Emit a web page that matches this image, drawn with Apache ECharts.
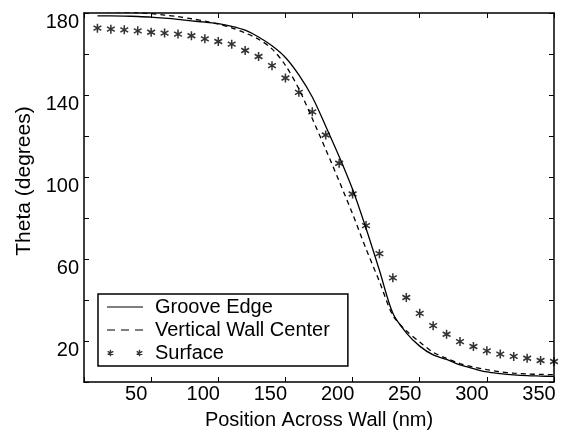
<!DOCTYPE html>
<html>
<head>
<meta charset="utf-8">
<script src="https://cdn.jsdelivr.net/npm/echarts@6/dist/echarts.min.js"></script>
<style>
html,body{margin:0;padding:0;background:#fff;}
#chart{width:561px;height:435px;}
</style>
</head>
<body>
<div id="chart"></div>
<script>
// ---- data ----
const xPositions = [10,20,30,40,50,60,70,80,90,100,110,120,130,140,150,160,170,180,190,200,210,220,230,240,250,260,270,280,290,300,310,320,330,340,350];
const grooveEdge = [178.6,178.6,178.5,178.3,178.0,177.5,176.9,176.2,175.5,174.8,173.5,171.6,168.3,164.0,158.3,149.8,139.0,124.8,110.0,94.0,75.0,54.5,33.5,24.0,17.5,13.2,11.0,8.3,6.5,4.9,4.1,3.5,3.1,2.9,2.7];
const verticalWallCenter = [180.8,180.7,180.5,180.2,179.7,179.0,178.2,177.2,176.0,174.6,172.8,170.3,167.2,162.5,154.5,143.0,128.5,113.5,98.0,82.0,65.0,49.0,32.5,25.0,19.5,14.5,11.5,9.0,7.3,6.0,5.0,4.3,3.9,3.7,3.6];
const surface = [172.6,172.1,171.8,171.3,170.6,170.2,169.7,168.9,167.4,166.1,164.8,161.7,158.8,154.3,148.3,141.3,131.8,120.5,106.7,91.7,76.3,62.6,50.8,41.2,33.5,27.5,23.3,19.7,17.3,15.2,13.6,12.5,11.6,10.5,10.0];
const seriesNames = ['Groove Edge','Vertical Wall Center','Surface'];
const xTickLabels = [50,100,150,200,250,300,350];
const yTickLabels = [20,60,100,140,180];
const xTitle = 'Position Across Wall (nm)';
const yTitle = 'Theta (degrees)';

const pairs = ys => xPositions.map((x,i)=>[x, ys[i]]);
const FONT = '"Liberation Sans", Arial, Helvetica, sans-serif';

// six-armed asterisk: three bars through (cx,cy), all wound the same way
function starPath(cx, cy, r, t) {
  let p = '';
  [90, 30, -30].forEach(deg => {
    const a = deg * Math.PI / 180, dx = Math.cos(a) * r, dy = Math.sin(a) * r;
    const nx = -Math.sin(a) * t / 2, ny = Math.cos(a) * t / 2;
    const pts = [[cx - dx + nx, cy - dy + ny], [cx + dx + nx, cy + dy + ny], [cx + dx - nx, cy + dy - ny], [cx - dx - nx, cy - dy - ny]];
    // make winding consistent (positive signed area)
    let s = 0;
    for (let i = 0; i < 4; i++) { const q = pts[i], w = pts[(i + 1) % 4]; s += q[0] * w[1] - w[0] * q[1]; }
    if (s < 0) pts.reverse();
    p += 'M' + pts.map(q => q[0].toFixed(2) + ' ' + q[1].toFixed(2)).join(' L') + ' Z ';
  });
  return p;
}
const asterisk = 'path://M0 0 L0.01 0 L0 0.01 Z M10 10 L9.99 10 L10 9.99 Z ' + starPath(5, 5, 5, 1.7);
// legend icons drawn in a 36 x 8 box (corner specks fix the box)
const box = 'M0 0 L0.01 0 L0 0.01 Z M36 8 L35.99 8 L36 7.99 Z ';
const solidIcon = 'path://' + box + 'M0 3.4 L36 3.4 L36 4.6 L0 4.6 Z';
const dashedIcon = 'path://' + box + 'M0 3.4 L8 3.4 L8 4.6 L0 4.6 Z M14 3.4 L22 3.4 L22 4.6 L14 4.6 Z M28 3.4 L36 3.4 L36 4.6 L28 4.6 Z';
const starIcon = 'path://' + box + starPath(3.5, 4, 3.3, 1.3) + starPath(32.5, 4, 3.3, 1.3);

const axisCommon = {
  axisLine: {show:true, onZero:false, lineStyle:{color:'#000', width:1.5}},
  axisTick: {show:true, inside:true, length:5, lineStyle:{color:'#000', width:1}},
  splitLine: {show:false}
};

const chart = echarts.init(document.getElementById('chart'), null, {renderer:'canvas'});
chart.setOption({
  animation:false,
  backgroundColor:'#fff',
  textStyle:{fontFamily:FONT},
  grid:{left:84, right:7, top:13, bottom:51, containLabel:false},
  xAxis:[
    Object.assign({}, axisCommon, {
      type:'value', position:'bottom', min:0, max:350, interval:50,
      name:xTitle, nameLocation:'middle', nameGap:28,
      nameTextStyle:{fontFamily:FONT, fontSize:20, color:'#000'},
      axisLabel:{show:true, customValues:xTickLabels, margin:2, fontFamily:FONT, fontSize:20, color:'#000', padding:[0,30,0,0]}
    }),
    Object.assign({}, axisCommon, {
      type:'value', position:'top', min:0, max:350, interval:50,
      axisLabel:{show:false}
    })
  ],
  yAxis:[
    Object.assign({}, axisCommon, {
      type:'value', position:'left', min:0, max:180, interval:20,
      name:yTitle, nameLocation:'middle', nameGap:49, nameRotate:90,
      nameTextStyle:{fontFamily:FONT, fontSize:21, color:'#000', padding:[0,0,0,33]},
      axisLabel:{show:true, customValues:yTickLabels, margin:5, color:'#000',
        formatter: v => '{a|' + v + '}',
        rich:{a:{fontFamily:FONT, fontSize:20, color:'#000', padding:[19,0,0,0]}}}
    }),
    Object.assign({}, axisCommon, {
      type:'value', position:'right', min:0, max:180, interval:20,
      axisLabel:{show:false}
    })
  ],
  legend:{
    show:true, orient:'vertical', left:98, top:294,
    backgroundColor:'#fff', borderColor:'#000', borderWidth:1.5, borderRadius:0,
    padding:[3,18,3,9], itemGap:3, itemWidth:36, itemHeight:8,
    textStyle:{fontFamily:FONT, fontSize:20, color:'#000', padding:[0,0,0,7]},
    data:[
      {name:seriesNames[0], icon:solidIcon},
      {name:seriesNames[1], icon:dashedIcon},
      {name:seriesNames[2], icon:starIcon}
    ]
  },
  series:[
    {name:seriesNames[0], type:'line', data:pairs(grooveEdge), smooth:0.3,
     symbol:'none', lineStyle:{color:'#000', width:1.3, type:'solid'}, itemStyle:{color:'#000'}},
    {name:seriesNames[1], type:'line', data:pairs(verticalWallCenter), smooth:0.3,
     symbol:'none', lineStyle:{color:'#000', width:1.3, type:[5,4]}, itemStyle:{color:'#000'}},
    {name:seriesNames[2], type:'scatter', data:pairs(surface), symbol:asterisk, symbolSize:9,
     itemStyle:{color:'#000'}, clip:false}
  ]
});
</script>
</body>
</html>
